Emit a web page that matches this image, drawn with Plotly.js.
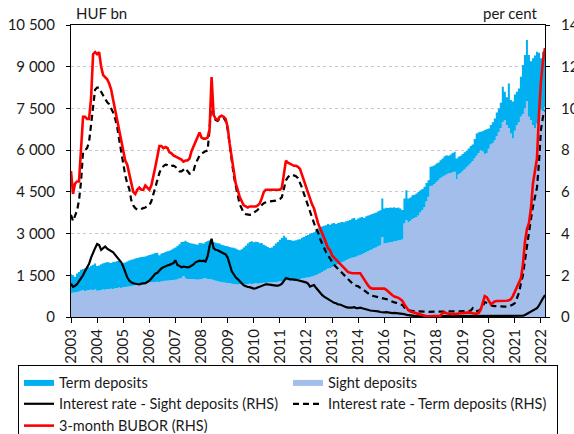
<!DOCTYPE html>
<html>
<head>
<meta charset="utf-8">
<script src="https://cdn.plot.ly/plotly-3.0.1.min.js"></script>
<style>
html,body{margin:0;padding:0;background:#fff;}
#chart{width:574px;height:434px;}
</style>
</head>
<body>
<div id="chart"></div>
<script>
// Monthly data, January 2003 - September 2022
var startYear = 2003;

// Sight deposits, HUF bn
var sightDeposits = [
 850, 870, 880, 900, 920, 940, 960, 930, 950, 970, 980, 960,
 990, 940, 950, 970, 990, 980, 1000, 1010, 1020, 1000, 1030, 1040,
 1060, 1040, 1070, 1080, 1090, 1100, 1110, 1120, 1140, 1160, 1170, 1190,
 1200, 1210, 1230, 1240, 1250, 1260, 1250, 1270, 1260, 1280, 1290, 1300,
 1300, 1310, 1320, 1330, 1340, 1350, 1380, 1400, 1470, 1380, 1370, 1360,
 1370, 1360, 1350, 1340, 1350, 1370, 1380, 1390, 1370, 1360, 1350, 1320,
 1300, 1280, 1270, 1250, 1240, 1230, 1220, 1210, 1200, 1190, 1180, 1170,
 1180, 1170, 1180, 1190, 1180, 1200, 1190, 1200, 1210, 1200, 1210, 1220,
 1230, 1220, 1240, 1250, 1240, 1260, 1250, 1270, 1280, 1290, 1300, 1310,
 1320, 1310, 1320, 1330, 1340, 1350, 1370, 1380, 1400, 1410, 1420, 1440,
 1460, 1480, 1510, 1550, 1580, 1620, 1660, 1700, 1740, 1760, 1800, 1840,
 1870, 1900, 1940, 1980, 2000, 2040, 2080, 2100, 2130, 2150, 2170, 2200,
 2230, 2260, 2290, 2330, 2370, 2400, 2430, 2470, 2500, 2540, 2580, 2880,
 2640, 2650, 2670, 2690, 2700, 2720, 2730, 2750, 2760, 2790, 3360, 3480,
 3400, 3450, 3520, 3560, 3600, 3650, 3760, 3850, 3950, 4150, 4320, 4700,
 4720, 4780, 4850, 4920, 5000, 5040, 5080, 5120, 5160, 5180, 5200, 5220,
 4950, 5120, 5180, 5240, 5300, 5380, 5450, 5520, 5600, 5700, 5800, 5900,
 6000, 5950, 5850, 5900, 6050, 6200, 6250, 6350, 6500, 6650, 6800, 7000,
 7080, 6900, 6800, 6600, 6420, 6700, 6900, 7000, 7200, 7300, 7500, 7760,
 7200, 7080, 6900, 6800, 6950, 7200, 7450, 7400, 7550
];

// Term deposits, HUF bn
var termDeposits = [
 690, 630, 570, 660, 700, 760, 770, 820, 810, 820, 860, 920,
 930, 890, 900, 930, 940, 970, 980, 950, 920, 980, 960, 970,
 960, 880, 880, 880, 910, 930, 950, 960, 960, 960, 970, 970,
 970, 970, 970, 990, 1000, 1010, 1050, 1040, 960, 1000, 1010, 1040,
 1060, 1070, 1100, 1130, 1160, 1200, 1240, 1300, 1240, 1360, 1330, 1300,
 1270, 1270, 1270, 1260, 1310, 1280, 1260, 1310, 1360, 1400, 1370, 1380,
 1370, 1370, 1370, 1350, 1340, 1320, 1320, 1310, 1300, 1300, 1280, 1260,
 1220, 1270, 1320, 1370, 1460, 1500, 1530, 1490, 1500, 1500, 1440, 1440,
 1370, 1340, 1280, 1230, 1260, 1300, 1390, 1430, 1500, 1550, 1620, 1550,
 1460, 1460, 1430, 1410, 1420, 1440, 1430, 1470, 1480, 1510, 1530, 1560,
 1560, 1570, 1610, 1630, 1640, 1630, 1620, 1600, 1600, 1560, 1560, 1540,
 1470, 1480, 1460, 1440, 1410, 1400, 1380, 1390, 1410, 1410, 1330, 1340,
 1350, 1340, 1270, 1290, 1280, 1280, 1270, 1260, 1260, 1260, 1260, 1380,
 1260, 1280, 1250, 1250, 1230, 1230, 1190, 1190, 1140, 1060, 900, 1080,
 860, 850, 860, 840, 840, 850, 800, 750, 730, 670, 600, 700,
 700, 680, 670, 640, 640, 660, 700, 700, 640, 660, 700, 720,
 750, 640, 620, 620, 620, 600, 610, 630, 600, 700, 800, 740,
 660, 730, 870, 850, 730, 700, 750, 790, 850, 850, 900, 1280,
 1020, 1000, 1600, 1200, 1330, 1300, 1200, 1220, 1440, 1760, 1920, 2200,
 2220, 2120, 2400, 2600, 2590, 2300, 1850, 2140, 1930
];

// Interest rate - Sight deposits, per cent
var rateSight = [
 1.6, 1.45, 1.5, 1.57, 1.72, 1.85, 2.0, 2.2, 2.35, 2.55, 2.85, 3.1,
 3.3, 3.5, 3.45, 3.22, 3.3, 3.38, 3.28, 3.22, 3.16, 3.1, 2.98, 2.85,
 2.74, 2.62, 2.42, 2.15, 1.9, 1.75, 1.66, 1.62, 1.6, 1.58, 1.56, 1.6,
 1.62, 1.62, 1.68, 1.74, 1.85, 1.98, 2.08, 2.12, 2.25, 2.33, 2.38, 2.44,
 2.47, 2.5, 2.55, 2.58, 2.72, 2.5, 2.45, 2.38, 2.42, 2.4, 2.38, 2.4,
 2.45, 2.52, 2.62, 2.65, 2.7, 2.68, 2.7, 2.66, 2.9, 3.4, 3.75, 3.3,
 3.22, 3.2, 3.15, 3.1, 3.08, 3.0, 2.85, 2.5, 2.2, 2.05, 1.9, 1.82,
 1.7, 1.62, 1.52, 1.46, 1.44, 1.43, 1.4, 1.36, 1.38, 1.42, 1.46, 1.5,
 1.56, 1.57, 1.56, 1.54, 1.52, 1.5, 1.5, 1.5, 1.53, 1.6, 1.72, 1.86,
 1.84, 1.8, 1.8, 1.8, 1.78, 1.76, 1.74, 1.72, 1.69, 1.66, 1.6, 1.46,
 1.5, 1.53, 1.4, 1.28, 1.15, 1.06, 0.98, 0.92, 0.84, 0.76, 0.72, 0.68,
 0.66, 0.6, 0.6, 0.55, 0.52, 0.47, 0.45, 0.44, 0.45, 0.47, 0.43, 0.43,
 0.45, 0.42, 0.39, 0.37, 0.32, 0.31, 0.3, 0.3, 0.28, 0.27, 0.24, 0.22,
 0.22, 0.23, 0.21, 0.2, 0.19, 0.2, 0.19, 0.2, 0.18, 0.16, 0.14, 0.1,
 0.08, 0.06, 0.05, 0.05, 0.04, 0.04, 0.04, 0.04, 0.03, 0.03, 0.03, 0.03,
 0.03, 0.03, 0.03, 0.03, 0.03, 0.03, 0.03, 0.03, 0.03, 0.03, 0.03, 0.03,
 0.03, 0.03, 0.03, 0.03, 0.03, 0.03, 0.03, 0.04, 0.06, 0.04, 0.03, 0.03,
 0.03, 0.03, 0.03, 0.03, 0.03, 0.03, 0.03, 0.03, 0.03, 0.03, 0.03, 0.03,
 0.03, 0.03, 0.03, 0.03, 0.03, 0.03, 0.03, 0.03, 0.03, 0.06, 0.1, 0.15,
 0.22, 0.28, 0.32, 0.37, 0.42, 0.55, 0.75, 0.9, 1.05
];

// Interest rate - Term deposits, per cent
var rateTerm = [
 4.9, 4.6, 4.85, 5.1, 5.6, 6.5, 7.9, 8.0, 8.1, 8.4, 9.3, 10.3,
 10.9, 11.0, 11.0, 10.8, 10.6, 10.45, 10.3, 10.2, 10.0, 9.8, 9.5, 9.1,
 8.5, 7.9, 7.4, 6.8, 6.4, 6.15, 5.6, 5.35, 5.22, 5.15, 5.15, 5.2,
 5.22, 5.25, 5.3, 5.35, 5.55, 5.9, 6.3, 6.65, 6.9, 7.15, 7.25, 7.3,
 7.28, 7.22, 7.25, 7.26, 7.2, 7.1, 6.98, 6.98, 7.05, 7.14, 7.0, 6.87,
 6.9, 7.0, 7.35, 7.55, 7.74, 7.83, 7.9, 7.95, 7.98, 9.0, 10.5, 9.7,
 9.45, 9.4, 9.5, 9.55, 9.55, 9.4, 9.0, 8.2, 7.4, 6.8, 6.3, 5.9,
 5.4, 5.2, 5.0, 4.93, 4.9, 4.9, 4.92, 4.98, 5.05, 5.14, 5.28, 5.38,
 5.46, 5.5, 5.54, 5.54, 5.55, 5.56, 5.58, 5.62, 5.66, 5.75, 6.2, 6.55,
 6.7, 6.8, 6.82, 6.8, 6.75, 6.66, 6.45, 6.2, 5.9, 5.6, 5.4, 5.0,
 4.75, 4.5, 4.25, 4.05, 3.75, 3.5, 3.3, 3.1, 2.95, 2.78, 2.62, 2.5,
 2.4, 2.3, 2.2, 2.1, 2.0, 1.9, 1.78, 1.68, 1.58, 1.52, 1.5, 1.47,
 1.4, 1.36, 1.28, 1.2, 1.15, 1.06, 1.02, 1.0, 0.96, 0.93, 0.92, 0.91,
 0.88, 0.86, 0.83, 0.78, 0.72, 0.7, 0.68, 0.62, 0.6, 0.58, 0.45, 0.4,
 0.33, 0.3, 0.29, 0.28, 0.27, 0.27, 0.26, 0.26, 0.25, 0.25, 0.25, 0.25,
 0.25, 0.25, 0.25, 0.26, 0.26, 0.27, 0.27, 0.27, 0.27, 0.27, 0.27, 0.27,
 0.27, 0.26, 0.27, 0.28, 0.28, 0.28, 0.29, 0.3, 0.42, 0.3, 0.29, 0.3,
 0.38, 0.5, 0.72, 0.68, 0.62, 0.56, 0.53, 0.52, 0.51, 0.5, 0.5, 0.5,
 0.5, 0.5, 0.51, 0.55, 0.6, 0.67, 0.9, 1.15, 1.6, 2.0, 2.7, 3.4,
 4.2, 4.7, 5.3, 5.7, 6.2, 7.4, 9.0, 9.6, 9.9
];

// 3-month BUBOR, per cent
var bubor3m = [
 7.0, 5.9, 6.4, 6.5, 6.5, 8.3, 9.6, 9.6, 9.5, 9.5, 10.5, 12.6,
 12.7, 12.6, 12.7, 12.0, 11.6, 11.5, 11.4, 11.2, 10.9, 10.4, 9.9, 9.5,
 9.0, 8.5, 7.9, 7.5, 7.3, 6.9, 6.5, 6.0, 5.9, 6.1, 6.2, 6.1,
 6.1, 6.3, 6.2, 6.1, 6.3, 6.7, 7.2, 7.7, 8.2, 8.2, 8.1, 8.15,
 8.1, 7.9, 7.85, 7.75, 7.7, 7.65, 7.6, 7.55, 7.45, 7.5, 7.5, 7.6,
 7.95, 8.2, 8.4, 8.6, 8.85, 8.6, 8.55, 8.55, 8.6, 9.0, 11.5, 9.7,
 9.5, 9.45, 9.6, 9.65, 9.6, 9.5, 9.1, 8.3, 7.6, 6.9, 6.4, 6.1,
 5.75, 5.55, 5.35, 5.3, 5.25, 5.3, 5.3, 5.3, 5.3, 5.35, 5.45, 5.7,
 6.0, 6.1, 6.1, 6.1, 6.1, 6.1, 6.1, 6.1, 6.1, 6.2, 6.9, 7.5,
 7.4, 7.35, 7.3, 7.25, 7.25, 7.2, 7.1, 6.8, 6.5, 6.2, 5.9, 5.7,
 5.4, 5.2, 4.8, 4.5, 4.25, 4.05, 3.8, 3.55, 3.3, 3.2, 2.95, 2.85,
 2.75, 2.65, 2.6, 2.45, 2.35, 2.25, 2.15, 2.12, 2.1, 2.1, 2.1, 2.1,
 2.1, 1.95, 1.8, 1.6, 1.5, 1.4, 1.36, 1.36, 1.36, 1.36, 1.36, 1.36,
 1.36, 1.3, 1.2, 1.1, 1.04, 0.98, 0.95, 0.92, 0.85, 0.77, 0.6, 0.45,
 0.32, 0.26, 0.23, 0.2, 0.17, 0.15, 0.12, 0.1, 0.06, 0.03, 0.03, 0.03,
 0.03, 0.03, 0.03, 0.03, 0.06, 0.2, 0.22, 0.18, 0.15, 0.14, 0.13, 0.14,
 0.15, 0.15, 0.16, 0.18, 0.2, 0.22, 0.22, 0.2, 0.17, 0.16, 0.16, 0.2,
 0.35, 0.65, 1.0, 0.95, 0.75, 0.62, 0.68, 0.75, 0.77, 0.77, 0.76, 0.77,
 0.77, 0.78, 0.8, 0.85, 1.0, 1.2, 1.4, 1.65, 1.85, 2.5, 3.6, 4.2,
 4.5, 5.2, 6.4, 7.0, 7.6, 9.7, 11.3, 12.3, 12.9
];

// Axis tick labels (the original labels every 13th month, so 2015 is skipped)
var xTickLabels = ['2003','2004','2005','2006','2007','2008','2009','2010','2011','2012',
                   '2013','2014','2016','2017','2018','2019','2020','2021','2022'];
var xTickStep = 13;
var leftTickVals = [0, 1500, 3000, 4500, 6000, 7500, 9000, 10500];
var leftTickText = ['0', '1 500', '3 000', '4 500', '6 000', '7 500', '9 000', '10 500'];
var rightTickVals = [0, 2, 4, 6, 8, 10, 12, 14];

// Month categories
var months = [];
for (var i = 0; i < sightDeposits.length; i++) {
  var y = startYear + Math.floor(i / 12);
  var mo = (i % 12) + 1;
  months.push(y + '-' + (mo < 10 ? '0' : '') + mo);
}
var xTickVals = [];
for (var k = 0; k < xTickLabels.length; k++) xTickVals.push(months[k * xTickStep]);

var FONT = 'Lato, "Liberation Sans", Arial, sans-serif';
var TXT = '#1a1a1a';

var traces = [
  {
    name: 'Sight deposits', x: months, y: sightDeposits, type: 'scatter', mode: 'lines',
    stackgroup: 'dep', line: {width: 0, shape: 'hvh'}, fillcolor: '#A4BEEC',
    legendrank: 2, hoverinfo: 'skip'
  },
  {
    name: 'Term deposits', x: months, y: termDeposits, type: 'scatter', mode: 'lines',
    stackgroup: 'dep', line: {width: 0, shape: 'hvh'}, fillcolor: '#00B0F0',
    legendrank: 1, hoverinfo: 'skip'
  },
  {
    name: 'Interest rate - Sight deposits (RHS)', x: months, y: rateSight, yaxis: 'y2',
    type: 'scatter', mode: 'lines', line: {color: '#000000', width: 2.2},
    legendrank: 3, hoverinfo: 'skip'
  },
  {
    name: 'Interest rate - Term deposits (RHS)', x: months, y: rateTerm, yaxis: 'y2',
    type: 'scatter', mode: 'lines', line: {color: '#000000', width: 2.2, dash: '6px,4px'},
    legendrank: 4, hoverinfo: 'skip'
  },
  {
    name: '3-month BUBOR (RHS)', x: months, y: bubor3m, yaxis: 'y2',
    type: 'scatter', mode: 'lines', line: {color: '#FF0000', width: 2.6},
    legendrank: 5, hoverinfo: 'skip'
  }
];

var plotL = 71, plotR = 545, plotT = 25, plotB = 317;
var pw = plotR - plotL, ph = plotB - plotT;

var layout = {
  width: 574, height: 434,
  margin: {l: plotL, r: 574 - plotR, t: plotT, b: 434 - plotB, pad: 0, autoexpand: false},
  paper_bgcolor: '#ffffff', plot_bgcolor: '#ffffff',
  font: {family: FONT, size: 14, color: TXT},
  showlegend: true,
  xaxis: {
    type: 'category', tickmode: 'array', tickvals: xTickVals, ticktext: xTickLabels,
    tickangle: -90, ticks: 'outside', ticklen: 5, tickcolor: '#000', tickwidth: 1,
    showline: true, linecolor: '#000', linewidth: 1, mirror: true,
    showgrid: false, zeroline: false, fixedrange: true, automargin: false,
    tickfont: {family: FONT, size: 15, color: TXT}
  },
  yaxis: {
    range: [0, 10500], tickmode: 'array', tickvals: leftTickVals, ticktext: leftTickText,
    ticks: 'outside', ticklen: 4, tickcolor: '#000', ticklabelstandoff: 8,
    showline: true, linecolor: '#000', linewidth: 1,
    showgrid: true, gridcolor: '#C8C8C8', griddash: 'dot', gridwidth: 1,
    zeroline: false, fixedrange: true, automargin: false,
    tickfont: {family: FONT, size: 15, color: TXT}
  },
  yaxis2: {
    range: [0, 14], overlaying: 'y', side: 'right', tickmode: 'array', tickvals: rightTickVals,
    ticks: 'outside', ticklen: 4, tickcolor: '#000', ticklabelstandoff: 8,
    showline: true, linecolor: '#000', linewidth: 1,
    showgrid: false, zeroline: false, fixedrange: true, automargin: false,
    tickfont: {family: FONT, size: 15, color: TXT}
  },
  legend: {
    orientation: 'h', x: (18 - plotL) / pw, xanchor: 'left',
    y: (plotB - 365) / ph, yanchor: 'top', traceorder: 'normal',
    bordercolor: '#000', borderwidth: 1, bgcolor: '#fff',
    font: {family: FONT, size: 14.5, color: TXT},
    entrywidth: 224, entrywidthmode: 'pixels', tracegroupgap: 0, itemwidth: 30
  },
  annotations: [
    {text: 'HUF bn', xref: 'paper', yref: 'paper', x: (74 - plotL) / pw, y: 1 + (plotT - 13) / ph,
     xanchor: 'left', yanchor: 'middle', showarrow: false, font: {family: FONT, size: 15, color: TXT}},
    {text: 'per cent', xref: 'paper', yref: 'paper', x: (540 - plotL) / pw, y: 1 + (plotT - 13) / ph,
     xanchor: 'right', yanchor: 'middle', showarrow: false, font: {family: FONT, size: 15, color: TXT}}
  ]
};

Plotly.newPlot('chart', traces, layout, {displayModeBar: false, staticPlot: true});
</script>
</body>
</html>
